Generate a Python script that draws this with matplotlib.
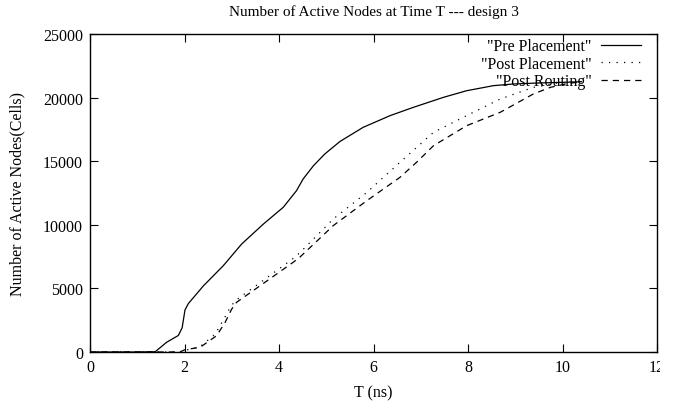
import matplotlib
matplotlib.use("Agg")
import matplotlib.pyplot as plt
from matplotlib.patches import Rectangle

plt.rcParams['font.family'] = ['Liberation Serif', 'DejaVu Serif']

# time axis (ns) and active node counts
pre_t = [0, 0.5, 1.0, 1.38, 1.62, 1.87, 1.95, 2.01, 2.08, 2.40, 2.82, 3.21, 3.67,
         4.09, 4.37, 4.51, 4.73, 4.97, 5.29, 5.78, 6.35, 6.84, 7.48, 7.97, 8.54,
         8.96, 9.5, 10.0, 10.4]
pre_n = [0, 0, 0, 20, 760, 1300, 1900, 3300, 3800, 5200, 6780, 8490, 10060,
         11375, 12680, 13600, 14650, 15570, 16550, 17660, 18580, 19230, 20020,
         20540, 20940, 21070, 21150, 21200, 21250]

post_pl_t = [0, 1.0, 1.9, 2.0, 2.33, 2.65, 2.85, 2.98, 3.10, 3.60, 4.30, 4.44,
             5.15, 5.86, 6.56, 7.27, 7.97, 8.68, 9.38, 9.9, 10.4]
post_pl_n = [0, 0, 0, 120, 420, 1400, 2700, 3600, 4100, 5450, 7350, 7800,
             10460, 12550, 14910, 17270, 18580, 19890, 20800, 21150, 21250]

post_rt_t = [0, 1.0, 1.9, 2.01, 2.33, 2.68, 2.86, 3.0, 3.10, 3.60, 4.30, 4.44,
             5.15, 5.86, 6.56, 6.91, 7.27, 7.97, 8.68, 9.38, 9.74, 10.1, 10.4]
post_rt_n = [0, 0, 0, 180, 370, 1280, 2330, 3380, 3900, 5210, 7050, 7450,
             9940, 11900, 13730, 14910, 16220, 17790, 18840, 20280, 20800,
             21100, 21250]

fig = plt.figure(figsize=(6.75, 4.02), dpi=100)
ax = fig.add_axes([90 / 675, 1 - 353 / 402, (657 - 90) / 675, (353 - 35) / 402])

ax.plot(pre_t, pre_n, color='black', lw=0.9, label='"Pre Placement"')
ax.plot(post_pl_t, post_pl_n, color='black', lw=0.9, linestyle=(0, (1, 5)),
        label='"Post Placement"')
ax.plot(post_rt_t, post_rt_n, color='black', lw=0.9, linestyle=(0, (5, 4)),
        label='"Post Routing"')

ax.set_xlim(0, 12)
ax.set_ylim(0, 25000)
ax.set_xticks(range(0, 13, 2))
ax.set_yticks(range(0, 25001, 5000))
ax.tick_params(direction='in', length=6, width=0.8, top=True, right=True,
               labelsize=11.5, pad=5)
for sp in ax.spines.values():
    sp.set_linewidth(1.0)

ax.set_title("Number of Active Nodes at Time T --- design 3", fontsize=11, pad=14)
ax.set_xlabel("T (ns)", fontsize=11.5, labelpad=7)
ax.set_ylabel("Number of Active Nodes(Cells)", fontsize=11.5, labelpad=13)

ax.legend(loc='upper right', frameon=False, markerfirst=False, fontsize=11.5,
          handlelength=2.5, handletextpad=0.6, labelspacing=0.1,
          borderaxespad=0, borderpad=0, bbox_to_anchor=(0.972, 0.987))

# right side of the original is cut off
fig.patches.append(Rectangle((660 / 675, 0), 1, 1, transform=fig.transFigure,
                             facecolor='white', edgecolor='none', zorder=10))

fig.savefig("out.png", dpi=100)
